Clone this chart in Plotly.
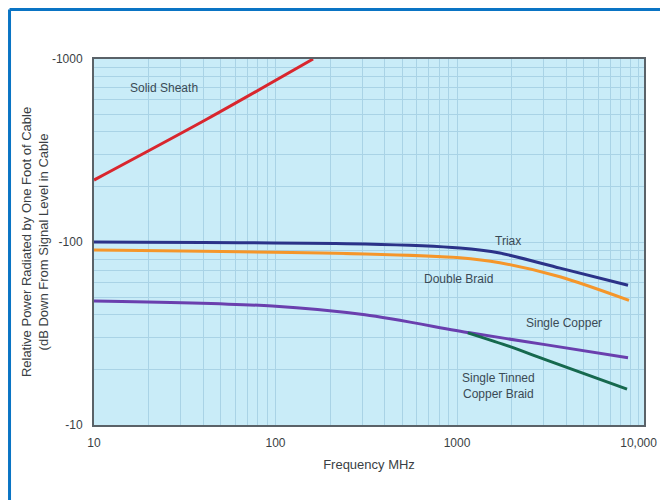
import numpy as np
import plotly.graph_objects as go

# values are magnitudes in dB (axis labels show them as negative)
solid_f = [10, 42, 161]
solid_db = [218, 470, 1000]

triax_f = [10, 311, 1036, 1720, 3690, 8750]
triax_db = [100, 97.5, 92.7, 87, 72, 58]

double_f = [10, 311, 1036, 1720, 3690, 8860]
double_db = [90.5, 86, 82, 77, 64.6, 48]

copper_f = [10, 96, 311, 1177, 3120, 8750]
copper_db = [47.6, 44.7, 40, 31.9, 27.4, 23.3]

tinned_f = [1146, 1960, 3120, 8640]
tinned_db = [31.9, 26.8, 22.6, 15.7]

# label positions (freq, dB)
labels = [
    ("Solid Sheath", 24.3, 690),
    ("Triax", 1910, 101),
    ("Double Braid", 1020, 63),
    ("Single Copper", 3880, 36),
    ("Single Tinned<br>Copper Braid", 1700, 16.3),
]

series = [
    (solid_f, solid_db, "#d9262e"),
    (triax_f, triax_db, "#2b3288"),
    (double_f, double_db, "#f5962a"),
    (copper_f, copper_db, "#6a3fae"),
    (tinned_f, tinned_db, "#16694e"),
]

fig = go.Figure()
for fx, fy, col in series:
    fig.add_trace(go.Scatter(x=fx, y=fy, mode="lines", line=dict(color=col, width=3, shape="spline", smoothing=0.8),
                             showlegend=False, cliponaxis=True))

for txt, fx, fy in labels:
    fig.add_annotation(x=np.log10(fx), y=np.log10(fy), text=txt, showarrow=False,
                       font=dict(size=12, color="#3a4a55"))

font = "Liberation Sans, Arial, sans-serif"
grid = "#a9d3e6"
fig.update_xaxes(type="log", range=[1, 4.03], tickvals=[10, 100, 1000, 10000],
                 ticktext=["10", "100", "1000", "10,000"], showgrid=True, gridcolor=grid, gridwidth=1,
                 minor=dict(showgrid=True, gridcolor=grid, gridwidth=1, dtick="D1"),
                 showline=True, linecolor="#5a6268", linewidth=2, mirror=True, ticks="",
                 ticklabelstandoff=6,
                 title=dict(text="Frequency MHz", standoff=10), zeroline=False, automargin=False,
                 tickfont=dict(size=12))
fig.update_yaxes(type="log", range=[1, 3], tickvals=[10, 100, 1000],
                 ticktext=["-10", "-100", "-1000"], showgrid=True, gridcolor=grid, gridwidth=1,
                 minor=dict(showgrid=True, gridcolor=grid, gridwidth=1, dtick="D1"),
                 showline=True, linecolor="#5a6268", linewidth=2, mirror=True, ticks="",
                 ticklabelstandoff=7,
                 title=dict(text="Relative Power Radiated by One Foot of Cable<br>(dB Down From Signal Level in Cable",
                            standoff=0), zeroline=False, automargin=False, tickfont=dict(size=12))

# blue outer frame (left and top edges)
fig.add_shape(type="line", xref="paper", yref="paper", x0=-0.1536, x1=1.1, y0=1.135, y1=1.135,
              line=dict(color="#0a74c4", width=3))
fig.add_shape(type="line", xref="paper", yref="paper", x0=-0.1536, x1=-0.1536, y0=-0.3, y1=1.135,
              line=dict(color="#0a74c4", width=3))

# page has an 8px body margin, so the figure is 660x492
fig.update_layout(width=660, height=492, margin=dict(l=86, r=24, t=51, b=75),
                  plot_bgcolor="#c9ecf8", paper_bgcolor="white",
                  font=dict(family=font, size=11, color="#3a3f44"))
fig.write_html("out.html")
